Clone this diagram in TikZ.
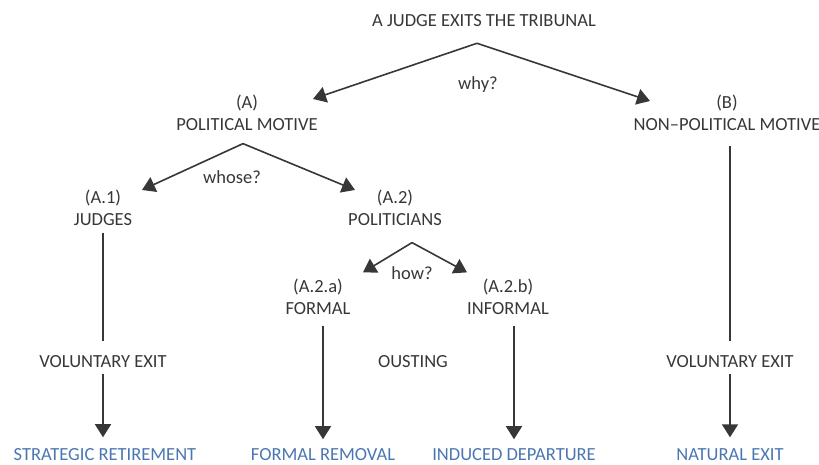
\documentclass[tikz,border=0pt]{standalone}
\usepackage{fontspec}
\setmainfont{Carlito}
\usepackage{xcolor}
\usetikzlibrary{arrows.meta,calc}
\definecolor{ink}{RGB}{55,55,55}
\definecolor{leafblue}{RGB}{74,118,178}

\begin{document}
\begin{tikzpicture}[
    x=1pt, y=-1pt,
    >={Triangle[length=13pt,width=16pt]},
    txt/.style={font=\fontsize{18.5}{22}\selectfont, text=ink, align=center, inner sep=0pt},
    leaf/.style={txt, text=leafblue},
    link/.style={line width=1.6pt, draw=ink},
    arrow/.style={link, ->},
]
    \useasboundingbox (0,0) rectangle (819,465);

    % Top of the tree
    \node[txt] (exit) at (484,21)  {A JUDGE EXITS THE TRIBUNAL};
    \node[txt] (why)  at (478,85)  {why?};
    \node[txt] (polA) at (247,113) {(A)\\POLITICAL MOTIVE};
    \node[txt] (nonB) at (727,113) {(B)\\NON--POLITICAL MOTIVE};

    % Political branch
    \node[txt] (whose) at (232,177) {whose?};
    \node[txt] (polA1) at (103,208) {(A.1)\\JUDGES};
    \node[txt] (polA2) at (395,208) {(A.2)\\POLITICIANS};
    \node[txt] (how)   at (412,273) {how?};
    \node[txt] (formA) at (318,297) {(A.2.a)\\FORMAL};
    \node[txt] (infA)  at (508,297) {(A.2.b)\\INFORMAL};

    % Middle row
    \node[txt] (volJ) at (103,362) {VOLUNTARY EXIT};
    \node[txt] (oust) at (413,362) {OUSTING};
    \node[txt] (volN) at (730,362) {VOLUNTARY EXIT};

    % Outcomes
    \node[leaf] (stratR) at (105,455) {STRATEGIC RETIREMENT};
    \node[leaf] (remR)   at (323,455) {FORMAL REMOVAL};
    \node[leaf] (indD)   at (514,455) {INDUCED DEPARTURE};
    \node[leaf] (natE)   at (730,455) {NATURAL EXIT};

    % Splits
    \draw[arrow] ($(exit.south)+(-7,16)$) -- ($(polA.north)+(66,4)$);
    \draw[arrow] ($(exit.south)+(-7,16)$) -- ($(nonB.north)+(-77,6)$);
    \draw[arrow] ($(polA.south)+(-4,12.6)$) -- ($(polA1.north)+(39,0)$);
    \draw[arrow] ($(polA.south)+(-4,12.6)$) -- ($(polA2.north)+(-40,0)$);
    \draw[arrow] ($(polA2.south)+(17,16.6)$) -- ($(formA.north)+(45,-6.6)$);
    \draw[arrow] ($(polA2.south)+(17,16.6)$) -- ($(infA.north)+(-41,-6.6)$);

    % Down to the outcomes
    \draw[link]  ($(polA1.south)+(0,6.6)$) -- ($(volJ.north)+(0,-14.5)$);
    \draw[arrow] ($(volJ.south)+(0,5.5)$) -- ($(volJ.south |- stratR.north)+(0,-11.5)$);
    \draw[arrow] ($(formA.south -| remR.north)+(0,10.6)$) -- ($(remR.north)+(0,-9.5)$);
    \draw[arrow] ($(infA.south -| indD.north)+(0,10.6)$) -- ($(indD.north)+(0,-9.5)$);
    \draw[link]  ($(nonB.south -| volN.north)+(0,14.6)$) -- ($(volN.north)+(0,-14.5)$);
    \draw[arrow] ($(volN.south)+(0,5.5)$) -- ($(natE.north)+(0,-11.5)$);
\end{tikzpicture}
\end{document}
